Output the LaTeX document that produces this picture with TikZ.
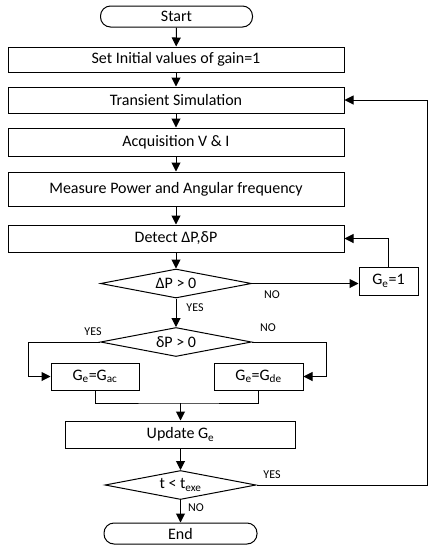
\documentclass[tikz,border=0pt]{standalone}
\usepackage{fontspec}
\setmainfont{Carlito}
\usetikzlibrary{arrows.meta, shapes.geometric}
\tikzset{
  procbox/.style={rectangle, draw, line width=1pt, inner sep=0pt, font=\fontsize{16}{19}\selectfont},
  termbox/.style={rectangle, rounded corners=10pt, draw, line width=1pt, inner sep=0pt, minimum width=152pt, minimum height=21pt, font=\fontsize{16}{19}\selectfont},
  decbox/.style={diamond, draw, line width=1pt, inner sep=0pt, aspect=5, minimum width=151pt, minimum height=29pt, font=\fontsize{16}{19}\selectfont},
  flowarrow/.style={-{Triangle[length=9pt,width=9pt]}, line width=1pt},
  flowline/.style={line width=1pt},
  branchlabel/.style={font=\fontsize{12}{14}\selectfont, inner sep=0pt}
}
\begin{document}
\begin{tikzpicture}[x=1pt, y=-1pt]
  \useasboundingbox (0,0) rectangle (433,550);
  % Nodes
  \node[termbox] (start) at (176.5,16.5) {Start};
  \node[procbox, minimum width=336pt, minimum height=25pt] (init) at (176,59.5) {Set Initial values of gain=1};
  \node[procbox, minimum width=336pt, minimum height=26pt] (trans) at (176,100) {Transient Simulation};
  \node[procbox, minimum width=336pt, minimum height=28pt] (acq) at (176,142) {Acquisition V \& I};
  \node[procbox, minimum width=336pt, minimum height=34pt] (meas) at (176,189) {Measure Power and Angular frequency};
  \node[procbox, minimum width=336pt, minimum height=27pt] (detect) at (176,238.5) {Detect ΔP,δP};
  \node[decbox] (dP) at (176,283.5) {ΔP > 0};
  \node[procbox, minimum width=59pt, minimum height=28pt] (gone) at (388.5,281) {G\textsubscript{e}=1};
  \node[decbox] (sP) at (176,342) {δP > 0};
  \node[procbox, minimum width=88pt, minimum height=27pt] (gac) at (95,376.5) {G\textsubscript{e}=G\textsubscript{ac}};
  \node[procbox, minimum width=89pt, minimum height=27pt] (gde) at (258.5,376.5) {G\textsubscript{e}=G\textsubscript{de}};
  \coordinate (join) at (180.5,403);
  \node[procbox, minimum width=230pt, minimum height=27pt] (update) at (180.5,434.5) {Update G\textsubscript{e}};
  \node[decbox] (tcheck) at (180.5,485) {t < t\textsubscript{exe}};
  \node[termbox, minimum width=153pt] (end) at (180.5,533.5) {End};

  % Labels
  \node[branchlabel] (noA) at (272,295) {NO};
  \node[branchlabel] (yesA) at (195,308) {YES};
  \node[branchlabel] (yesB) at (93,332) {YES};
  \node[branchlabel] (noB) at (268,328) {NO};
  \node[branchlabel] (yesC) at (272,475) {YES};
  \node[branchlabel] (noC) at (196,508) {NO};

  % Connections
  \draw[flowarrow] (start) -- (init);
  \draw[flowarrow] (init) -- (trans);
  \draw[flowarrow] (trans) -- (acq);
  \draw[flowarrow] (acq) -- (meas);
  \draw[flowarrow] (meas) -- (detect);
  \draw[flowarrow] (detect) -- (dP);
  \draw[flowarrow] (dP.east) -- (gone.west |- dP.east);
  \draw[flowarrow] (gone.north) |- (detect.east);
  \draw[flowarrow] (dP) -- (sP);
  \draw[flowarrow] (sP.west) -- ++(-72,0) |- (gac.west);
  \draw[flowarrow] (sP.east) -- ++(74,0) |- (gde.east);
  \draw[flowline] (gac.south) |- (join) -| (gde.south);
  \draw[flowarrow] (join) -- (update);
  \draw[flowarrow] (update) -- (tcheck);
  \draw[flowarrow] (tcheck) -- (end);
  \draw[flowarrow] (tcheck.east) -- ++(171,0) |- (trans.east);
\end{tikzpicture}
\end{document}
